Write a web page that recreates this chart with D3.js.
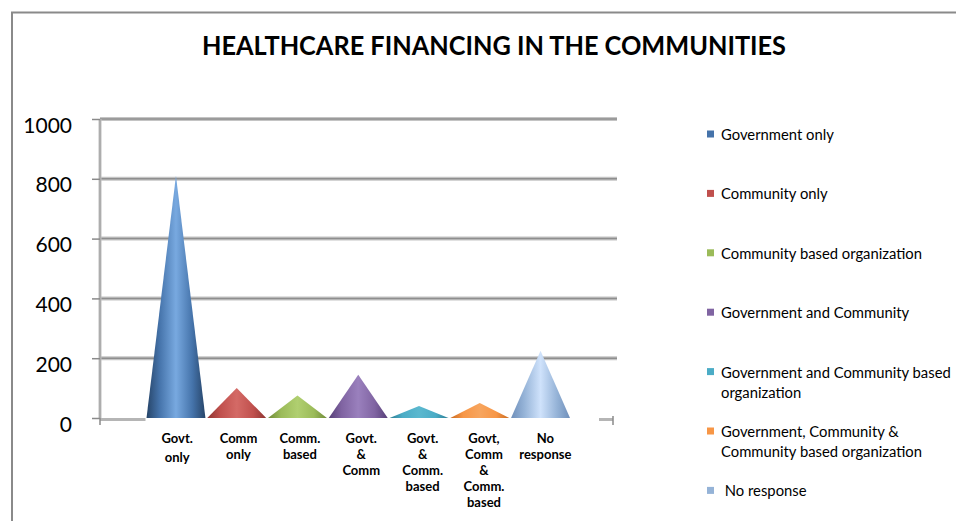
<!DOCTYPE html>
<html>
<head>
<meta charset="utf-8">
<script src="https://cdn.jsdelivr.net/npm/d3@7/dist/d3.min.js"></script>
<style>
  html, body { margin: 0; padding: 0; background: #fff; }
  svg { display: block; }
</style>
</head>
<body>
<svg id="chart" width="956" height="521"></svg>
<script>
// Sources of healthcare financing reported by respondents
const categories = ["Govt. only", "Comm only", "Comm. based", "Govt. & Comm",
  "Govt. & Comm. based", "Govt, Comm & Comm. based", "No response"];
const axisLabels = [
  ["Govt.", "only"],
  ["Comm", "only"],
  ["Comm.", "based"],
  ["Govt.", "&", "Comm"],
  ["Govt.", "&", "Comm.", "based"],
  ["Govt,", "Comm", "&", "Comm.", "based"],
  ["No", "response"]
];
const legendLabels = [
  ["Government only"],
  ["Community only"],
  ["Community based organization"],
  ["Government and Community"],
  ["Government and Community based", "organization"],
  ["Government, Community &", "Community based organization"],
  [" No response"]
];
const values = [810, 100, 75, 145, 40, 50, 225];
const yTicks = [0, 200, 400, 600, 800, 1000];
const palette = [
  { base: "#4573aa", dark: "#264468", light: "#78a9e0" },
  { base: "#C0504D", dark: "#8e3431", light: "#d46a66" },
  { base: "#9BBB59", dark: "#6f8a38", light: "#b0cf70" },
  { base: "#8064A2", dark: "#563f77", light: "#9a80bd" },
  { base: "#4BACC6", dark: "#2b7d93", light: "#5bb8cf" },
  { base: "#F79646", dark: "#c96a1f", light: "#f7a55e" },
  { base: "#95B3D7", dark: "#6f8fba", light: "#cfe2fb" }
];

const svg = d3.select("#chart");
const font = "Lato, 'Open Sans', sans-serif";

// plot frame
const plot = { left: 100, right: 617, top: 119, bottom: 418 };

const y = d3.scaleLinear().domain([0, 1000]).range([plot.bottom, plot.top]);
// cones sit mid-depth on the floor; labels run along its (slightly wider) front edge
const x = d3.scaleBand().domain(categories).range([146.5, 570]).paddingInner(0.03);
const xFront = d3.scaleBand().domain(categories).range([146.5, 576]);

// outer chart border
svg.append("path")
  .attr("d", `M12,521 V12.5 H956`)
  .attr("fill", "none").attr("stroke", "#8a8a8a").attr("stroke-width", 2);

// title
svg.append("text")
  .attr("x", 494).attr("y", 55)
  .attr("text-anchor", "middle")
  .attr("font-family", font).attr("font-weight", 700).attr("font-size", 27)
  .attr("textLength", 584).attr("lengthAdjust", "spacingAndGlyphs")
  .attr("fill", "#000")
  .text("HEALTHCARE FINANCING IN THE COMMUNITIES");

// back-wall gridlines
const grid = svg.append("g");
grid.selectAll("line.gshadow").data(yTicks.filter(d => d > 0)).join("line")
  .attr("class", "gshadow")
  .attr("x1", plot.left).attr("x2", plot.right)
  .attr("y1", d => y(d)).attr("y2", d => y(d))
  .attr("stroke", "#c4c4c4").attr("stroke-width", 4);
grid.selectAll("line.gmain").data(yTicks.filter(d => d > 0)).join("line")
  .attr("class", "gmain")
  .attr("x1", plot.left).attr("x2", plot.right)
  .attr("y1", d => y(d)).attr("y2", d => y(d))
  .attr("stroke", "#8e8e8e").attr("stroke-width", 1.5);

// side wall edge
svg.append("line")
  .attr("x1", plot.left).attr("x2", plot.left)
  .attr("y1", y(1000)).attr("y2", plot.bottom + 1)
  .attr("stroke", "#c0c0c0").attr("stroke-width", 3);
svg.append("line")
  .attr("x1", plot.left).attr("x2", plot.left)
  .attr("y1", y(1000)).attr("y2", plot.bottom + 1)
  .attr("stroke", "#9a9a9a").attr("stroke-width", 1);

// value axis with ticks and labels
const yAxis = d3.axisLeft(y).tickValues(yTicks).tickSize(8).tickPadding(20)
  .tickFormat(d3.format("d"));
const yg = svg.append("g").attr("transform", `translate(${plot.left},0)`).call(yAxis);
yg.select(".domain").remove();
yg.selectAll(".tick line").attr("stroke", "#8a8a8a").attr("stroke-width", 1.5);
yg.selectAll(".tick text")
  .attr("font-family", font).attr("font-size", 21).attr("fill", "#000")
  .attr("dy", "0.62em");

// floor front edge
svg.append("line")
  .attr("x1", plot.left).attr("x2", 613)
  .attr("y1", plot.bottom + 1.5).attr("y2", plot.bottom + 1.5)
  .attr("stroke", "#b5b5b5").attr("stroke-width", 3);
svg.append("line")
  .attr("x1", plot.left).attr("x2", plot.left)
  .attr("y1", plot.bottom).attr("y2", plot.bottom + 7)
  .attr("stroke", "#8a8a8a").attr("stroke-width", 1.5);
svg.append("line")
  .attr("x1", 613).attr("x2", 613)
  .attr("y1", plot.bottom - 2).attr("y2", plot.bottom + 7)
  .attr("stroke", "#8a8a8a").attr("stroke-width", 1.5);
// floor surface under the cones
svg.append("rect")
  .attr("x", x.range()[0] - 1).attr("y", plot.bottom)
  .attr("width", x.range()[1] - x.range()[0] + 30).attr("height", 4)
  .attr("fill", "#fff");

// shaded cones
const defs = svg.append("defs");
palette.forEach((p, i) => {
  const g = defs.append("linearGradient").attr("id", "cone" + i)
    .attr("x1", 0).attr("x2", 1).attr("y1", 0).attr("y2", 0);
  [[0, p.dark], [0.22, p.base], [0.5, p.light], [0.78, p.base], [1, p.dark]]
    .forEach(([o, c]) => g.append("stop").attr("offset", o).attr("stop-color", c));
});

svg.append("g").selectAll("path").data(categories).join("path")
  .attr("d", (c, i) => {
    const x0 = x(c), x1 = x(c) + x.bandwidth(), xc = x(c) + x.bandwidth() / 2;
    return `M${x0},${y(0)} L${xc},${y(values[i])} L${x1},${y(0)} Z`;
  })
  .attr("fill", (c, i) => `url(#cone${i})`);

// category labels
const xl = svg.append("g");
categories.forEach((c, i) => {
  const t = xl.append("text")
    .attr("x", xFront(c) + xFront.bandwidth() / 2)
    .attr("y", 443)
    .attr("text-anchor", "middle")
    .attr("font-family", font).attr("font-weight", 700).attr("font-size", 13)
    .attr("fill", "#000");
  axisLabels[i].forEach((line, j) => {
    t.append("tspan")
      .attr("x", xFront(c) + xFront.bandwidth() / 2)
      .attr("dy", j === 0 ? 0 : (i === 0 ? 19 : 16))
      .text(line);
  });
});

// legend
const legend = svg.append("g").attr("transform", "translate(707,134)");
const item = legend.selectAll("g").data(categories).join("g")
  .attr("transform", (c, i) => `translate(0,${i * 59.4})`);
item.append("rect")
  .attr("x", 0).attr("y", -3.5).attr("width", 7).attr("height", 7)
  .attr("fill", (c, i) => palette[i].base);
item.each(function (c, i) {
  const t = d3.select(this).append("text")
    .attr("x", 14).attr("y", 6)
    .attr("font-family", font).attr("font-size", 14.8).attr("fill", "#000")
    .attr("xml:space", "preserve");
  legendLabels[i].forEach((line, j) => {
    t.append("tspan").attr("x", 14).attr("dy", j === 0 ? 0 : 20).text(line);
  });
});
</script>
</body>
</html>
